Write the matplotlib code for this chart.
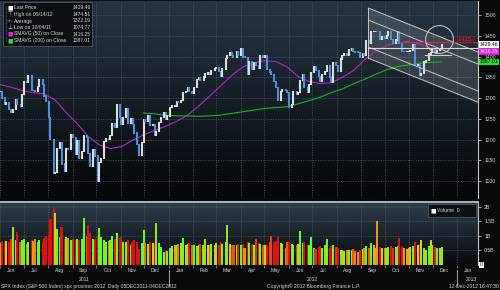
import numpy as np
import pandas as pd
import matplotlib
matplotlib.use("Agg")
import matplotlib.pyplot as plt
import matplotlib.dates as mdates
import matplotlib.transforms as mtrans
from matplotlib.colors import LinearSegmentedColormap
from matplotlib.patches import Rectangle, Polygon

plt.rcParams["font.family"] = ["Liberation Sans", "DejaVu Sans"]

W, H = 500, 290

# SPX closes, one every 2 business days from 01-Jun-2011
close = [
    1315, 1300, 1285, 1289, 1272, 1265, 1272, 1296, 1284, 1280, 1308,
    1340, 1338, 1353, 1319, 1318, 1316, 1327, 1344, 1332, 1305, 1292,
    1254, 1200, 1119, 1121, 1179, 1193, 1141, 1124, 1178, 1177, 1213,
    1204, 1165, 1198, 1154, 1172, 1209, 1204, 1166, 1136, 1175, 1160,
    1099, 1144, 1155, 1195, 1203, 1200, 1209, 1238, 1229, 1284, 1253,
    1237, 1253, 1275, 1239, 1251, 1237, 1216, 1188, 1162, 1192, 1247,
    1244, 1258, 1234, 1236, 1211, 1219, 1241, 1254, 1265, 1249, 1257,
    1277, 1281, 1281, 1292, 1289, 1294, 1314, 1316, 1326, 1316, 1312,
    1326, 1344, 1350, 1343, 1351, 1358, 1361, 1357, 1366, 1372,
    1374, 1364, 1353, 1370, 1396, 1403, 1409, 1402, 1397, 1412, 1403,
    1419, 1399, 1398, 1358, 1387, 1370, 1385, 1378, 1371, 1403, 1398,
    1402, 1369, 1363, 1357, 1339, 1325, 1295, 1316, 1320, 1318, 1313,
    1278, 1285, 1315, 1308, 1314, 1343, 1357, 1325, 1314, 1332, 1362,
    1375, 1367, 1352, 1341, 1357, 1364, 1377, 1351, 1338, 1386, 1379,
    1365, 1394, 1402, 1406, 1404, 1416, 1418, 1413, 1411, 1409, 1399,
    1406, 1404, 1438, 1433, 1460, 1461, 1461, 1460, 1441, 1447,
    1444, 1450, 1461, 1441, 1433, 1440, 1460, 1433, 1413, 1412, 1412, 1412,
    1414, 1428, 1378, 1380, 1355, 1360, 1387, 1391, 1406, 1410, 1416,
    1407, 1414, 1419, 1429,
]

# volume in billions, same dates
volume = [
    0.75, 0.78, 0.80, 0.82, 0.78, 0.90, 1.32, 0.85, 1.15, 0.80, 0.85,
    0.90, 0.72, 0.80, 0.85, 0.82, 0.90, 0.80, 0.85, 0.78, 0.92, 1.00,
    1.05, 1.60, 1.95, 1.80, 1.25, 0.95, 1.32, 0.90, 0.95, 0.92, 0.85,
    0.90, 0.85, 0.88, 0.85, 0.88, 1.61, 1.00, 1.38, 1.10, 0.90, 0.88,
    1.00, 1.26, 0.95, 0.85, 0.80, 0.82, 0.85, 1.00, 0.90, 1.09, 0.92,
    0.95, 0.80, 0.78, 0.85, 0.70, 0.80, 0.85, 0.78, 0.55, 0.75, 1.20,
    0.75, 0.72, 0.78, 0.75, 0.80, 1.44, 0.75, 0.62, 0.45, 0.50, 0.48,
    0.60, 0.65, 0.68, 0.70, 0.72, 0.75, 0.92, 0.70, 0.72, 0.75, 0.70,
    0.70, 0.65, 0.68, 0.72, 0.70, 0.88, 0.70, 0.68, 0.72, 0.70,
    0.75, 0.70, 0.78, 0.72, 0.80, 1.38, 0.72, 0.70, 0.68, 0.70, 0.72,
    0.70, 0.72, 0.60, 0.80, 0.75, 0.72, 0.70, 0.89, 0.75, 0.72, 0.70,
    0.70, 0.68, 0.80, 1.00, 0.78, 0.82, 0.98, 0.75, 0.72, 0.60, 0.78,
    0.80, 0.72, 0.70, 0.68, 0.72, 1.18, 0.75, 0.80, 0.68, 0.70, 0.98,
    0.60, 0.55, 0.62, 0.65, 0.60, 0.68, 0.89, 0.60, 0.65, 0.70, 0.62,
    0.60, 0.52, 0.50, 0.48, 0.50, 0.52, 0.50, 0.55, 0.48, 0.45, 0.50,
    0.55, 0.60, 0.65, 0.60, 0.77, 0.68, 0.60, 1.50, 0.62, 0.58,
    0.60, 0.58, 0.62, 0.65, 0.60, 0.62, 0.65, 0.94, 0.65, 0.60, 0.55, 0.60,
    0.62, 0.65, 0.80, 0.70, 0.72, 0.86, 0.60, 0.50, 0.65, 0.86, 0.70,
    0.62, 0.60, 0.58, 0.62,
]

# moving averages, read every 10 business days
ma50 = [1333, 1326, 1318, 1313, 1310, 1295, 1265, 1238, 1207, 1187, 1178,
        1183, 1198, 1211, 1222, 1232, 1244, 1259, 1281, 1305, 1330, 1355,
        1375, 1385, 1390, 1388, 1375, 1352, 1340, 1335, 1337, 1350, 1366,
        1392, 1413, 1427, 1433, 1436, 1430, 1420, 1416]
ma200 = [1264, 1262, 1258, 1257, 1257, 1256, 1257, 1259, 1263, 1267, 1271,
         1275, 1277, 1279, 1286, 1294, 1302, 1313, 1322, 1334, 1345, 1357,
         1368, 1376, 1380, 1384, 1386, 1387]

legend_labels = ["Last Price", "High on 09/14/12", "Average", "Low on 10/04/11",
                 "SMAVG (50) on Close", "SMAVG (200) on Close"]
legend_values = ["1429.46", "1474.51", "1322.19", "1074.77", "1416.25", "1387.01"]

# drawn trend channel
chan_dates = ["2012-09-10", "2013-01-27"]
chan_start = [1517, 1488, 1423, 1396]
chan_end = [1411, 1382, 1317, 1290]
level_red = 1435
level_white = 1420
level_short = 1404

price_ticks = [1100, 1150, 1200, 1250, 1300, 1350, 1400, 1450, 1500]
vol_ticks = [0.5, 1.0, 1.5, 2.0]
vol_tick_labels = ["0.5B", "1B", "1.5B", "2B"]

dates = pd.bdate_range("2011-06-01", periods=len(close), freq="2B")
x0, x1 = pd.Timestamp("2011-06-01"), pd.Timestamp("2013-01-27")

fig = plt.figure(figsize=(W / 100, H / 100), dpi=100, facecolor="#07090b")
ax = fig.add_axes([0, 1 - 198 / H, 478 / W, 197 / H])
vax = fig.add_axes([0, 1 - 265 / H, 478 / W, 63 / H])

grid_kw = dict(color="#56616c", lw=0.45, ls=(0, (2, 2)))
txt = dict(fontsize=3.6, color="#d4d4d4")


def gradient(a, top, bottom):
    cm = LinearSegmentedColormap.from_list("bg", [bottom, top])
    a.imshow(np.linspace(0, 1, 128).reshape(-1, 1), extent=[0, 1, 0, 1],
             transform=a.transAxes, cmap=cm, aspect="auto", origin="lower", zorder=0)


for a in (ax, vax):
    a.set_facecolor("#07090b")
    for s in ("top", "left", "bottom"):
        a.spines[s].set_visible(False)
    a.spines["right"].set_color("#c4c4c4")
    a.spines["right"].set_linewidth(0.8)
    a.yaxis.tick_right()
    a.tick_params(axis="y", length=2.5, width=0.5, color="#e0e0e0", pad=2,
                  labelsize=3.7, labelcolor="#d4d4d4")

gradient(ax, "#263543", "#05070a")
gradient(vax, "#2e3e4d", "#07090c")

month_starts = pd.date_range("2011-06-01", "2013-01-01", freq="MS")
month_mids = month_starts + pd.Timedelta(days=14)
for d in month_starts:
    ax.axvline(d, zorder=1, **grid_kw)
    vax.axvline(d, zorder=1, **grid_kw)
for p in price_ticks:
    ax.axhline(p, zorder=1, **grid_kw)
for v in vol_ticks:
    vax.axhline(v, zorder=1, **grid_kw)

# candles: body from previous close to close
c = np.array(close, dtype=float)
o = np.r_[c[0], c[:-1]]
up = c >= o
ax.vlines(dates, np.minimum(o, c) - 1.5, np.maximum(o, c) + 1.5,
          colors=np.where(up, "#dedede", "#4f8fd9"), lw=1.5, zorder=4)

ax.plot(dates[::5], ma50, color="#b02cc0", lw=0.8, zorder=3)
ax.plot(dates[65::5], ma200, color="#22b024", lw=0.8, zorder=3)

# channel
cd = mdates.date2num(pd.to_datetime(chan_dates))
ax.add_patch(Polygon([(cd[0], chan_start[0]), (cd[1], chan_end[0]),
                      (cd[1], chan_end[3]), (cd[0], chan_start[3])],
                     closed=True, fc="#ffffff", alpha=0.13, ec="none", zorder=2))
for s, e in zip(chan_start, chan_end):
    ax.plot(cd, [s, e], color="#c8c8c8", lw=0.7, zorder=5)
ax.plot([cd[0], cd[0]], [chan_start[0], chan_start[3]], color="#c8c8c8", lw=0.7, zorder=5)

ax.plot([pd.Timestamp("2012-10-21"), x1], [level_red] * 2, color="#c8284a", lw=1.0, zorder=5)
ax.plot([pd.Timestamp("2012-09-10"), x1], [level_white] * 2, color="#dcdcdc", lw=0.8, zorder=5)
ax.plot([pd.Timestamp("2012-11-21"), pd.Timestamp("2012-12-24")], [level_short] * 2,
        color="#d8d2b8", lw=0.8, zorder=5)
ax.plot([pd.Timestamp("2012-12-08")], [1442], marker="o", ms=20, mfc="none",
        mec="#d0d0d0", mew=0.7, zorder=6)
ax.text(pd.Timestamp("2013-01-10"), level_red + 1, "1435", fontsize=4.6, color="#e8283c",
        ha="center", va="bottom", zorder=7,
        bbox=dict(boxstyle="square,pad=0.12", fc="none", ec="#8a1c28", lw=0.6))

ax.set_xlim(x0, x1)
ax.set_ylim(1059, 1534)
ax.set_xticks([])
ax.set_yticks(price_ticks)

# right-axis value tags
bt = mtrans.blended_transform_factory(ax.transAxes, ax.transData)
tags = [(1429.46, "1429.46", "#ffffff", "#000000", 0),
        (1416.25, "1416.25", "#e020e0", "#ffffff", -1.3),
        (1387.01, "1387.01", "#22e022", "#000000", 0)]
for val, s, fc, tc, dy in tags:
    ax.annotate(s, (1.0, val), xycoords=bt, xytext=(1.5, dy), textcoords="offset points",
                fontsize=3.7, color=tc, va="center", ha="left", annotation_clip=False,
                bbox=dict(boxstyle="square,pad=0.15", fc=fc, ec="none"), zorder=8)

# volume bars, coloured by the move over the same step
vcm = LinearSegmentedColormap.from_list(
    "vol", ["#e01010", "#e83010", "#f08010", "#d8d020", "#9ee020", "#60ff20"])
chg = np.clip((c - o) / 12.0, -1, 1) * 0.5 + 0.5
vax.bar(dates, volume, width=2.6, color=vcm(chg), linewidth=0, zorder=3)
vax.set_xlim(x0, x1)
vax.set_ylim(0, 2.17)
vax.set_yticks(vol_ticks)
vax.set_yticklabels(vol_tick_labels)
vax.spines["top"].set_visible(True)
vax.spines["top"].set_color("#aab2ba")
vax.spines["top"].set_linewidth(1.4)
vax.set_xticks(month_starts)
vax.set_xticklabels([])
vax.tick_params(axis="x", length=2, width=0.5, color="#a0a0a0")
vax.set_xticks(month_mids, minor=True)
vax.set_xticklabels(month_mids.strftime("%b"), minor=True)
vax.tick_params(axis="x", which="minor", length=0, pad=2, labelsize=3.7, labelcolor="#d4d4d4")
vbt = mtrans.blended_transform_factory(vax.transAxes, vax.transData)
vax.annotate("0", (1.0, 0), xycoords=vbt, xytext=(1.5, 0), textcoords="offset points",
             fontsize=3.7, color="#000000", va="center", ha="left", annotation_clip=False,
             bbox=dict(boxstyle="square,pad=0.15", fc="#ffffff", ec="none"))

# year labels
ybt = mtrans.blended_transform_factory(vax.transData, vax.transAxes)
for s, d in [("2011", "2011-09-16"), ("2012", "2012-07-01"), ("2013", "2013-01-18")]:
    vax.text(pd.Timestamp(d), -0.235, s, transform=ybt, ha="center", va="center", **txt)
for d in ["2012-01-01", "2013-01-01"]:
    vax.plot([pd.Timestamp(d)] * 2, [-0.08, -0.33], transform=ybt, color="#c0c0c0",
             lw=0.6, clip_on=False)


def fx(x):
    return x / W


def fy(y):
    return 1 - y / H


# price legend
fig.patches.append(Rectangle((fx(3), fy(46)), fx(89), 44 / H, transform=fig.transFigure,
                             fc="#0c1014", ec="#50565e", lw=0.6, zorder=10))
markers = [("\u25a0", "#ffffff"), ("\u22a4", "#d4d4d4"), ("-+-", "#d4d4d4"),
           ("\u22a5", "#d4d4d4"), ("\u25a0", "#e020e0"), ("\u25a0", "#22e022")]
rows = [7.5, 14.5, 21, 27.5, 34, 40.5]
fig.lines.append(plt.Line2D([fx(5.5), fx(5.5)], [fy(6), fy(40.5)], transform=fig.transFigure,
                            color="#8a8a8a", lw=0.5, ls=(0, (1, 1)), zorder=11))
for (m, mc), lab, val, r in zip(markers, legend_labels, legend_values, rows):
    fig.text(fx(10.5), fy(r), m, color=mc, fontsize=4.2 if m != "-+-" else 3.0,
             ha="center", va="center", zorder=12, family=["DejaVu Sans"])
    fig.text(fx(14), fy(r), lab, ha="left", va="center", zorder=12, **txt)
    fig.text(fx(90.5), fy(r), val, ha="right", va="center", zorder=12, **txt)

# volume legend
fig.patches.append(Rectangle((fx(428), fy(216.5)), fx(48), 12.5 / H, transform=fig.transFigure,
                             fc="#0c1014", ec="#50565e", lw=0.6, zorder=10))
fig.text(fx(433), fy(210.5), "\u25a0", color="#ffffff", fontsize=4.2, ha="center",
         va="center", zorder=12, family=["DejaVu Sans"])
fig.text(fx(437), fy(210.5), "Volume  0", ha="left", va="center", zorder=12, **txt)

# footer
fig.text(fx(1), fy(286.5), "SPX Index (S&P 500 Index) spx prosinec 2012  Daily 05DEC2011-04DEC2012",
         ha="left", va="center", **txt)
fig.text(fx(267), fy(286.5), "Copyright\u00a9 2012 Bloomberg Finance L.P.", ha="left", va="center", **txt)
fig.text(fx(499), fy(286.5), "12-Dec-2012 16:47:30", ha="right", va="center", **txt)

fig.savefig("out.png", dpi=100, facecolor=fig.get_facecolor())
